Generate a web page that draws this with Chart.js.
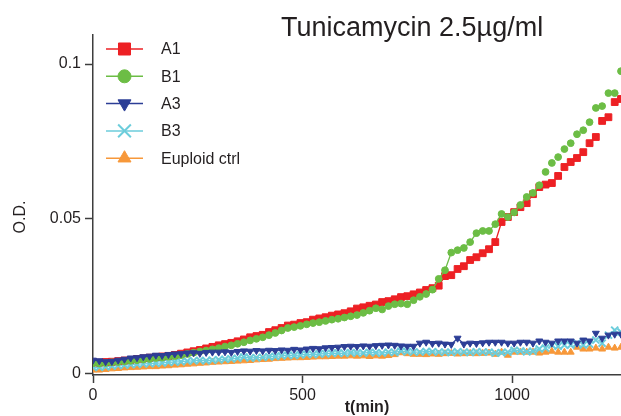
<!DOCTYPE html>
<html>
<head>
<meta charset="utf-8">
<script src="https://cdn.jsdelivr.net/npm/chart.js@4.4.0/dist/chart.umd.min.js"></script>
<style>
  html, body { margin: 0; padding: 0; background: #fff; }
  #wrap { width: 621px; height: 416px; }
</style>
</head>
<body>
<div id="wrap"><canvas id="odChart" width="621" height="416"></canvas></div>
<script>
// Sampling times (min)
const times = [0, 15, 30, 45, 60, 75, 90, 105, 120, 135, 150, 165, 180, 195, 210, 225, 240, 255, 270, 285,
  300, 315, 330, 345, 360, 375, 390, 405, 420, 435, 450, 465, 480, 495, 510, 525, 540, 555, 570, 585,
  600, 615, 630, 645, 660, 675, 690, 705, 720, 735, 750, 765, 780, 795, 810, 825, 840, 855, 870, 885,
  900, 915, 930, 945, 960, 975, 990, 1005, 1020, 1035, 1050, 1065, 1080, 1095, 1110, 1125, 1140, 1155,
  1170, 1185, 1200, 1215, 1230, 1245, 1260];

// O.D. readings per strain
const odA1 = [0.0035, 0.0034, 0.0036, 0.0037, 0.0039, 0.0041, 0.0043, 0.0046, 0.0048, 0.0050,
  0.0052, 0.0054, 0.0056, 0.0059, 0.0063, 0.0067, 0.0071, 0.0075, 0.0080, 0.0085,
  0.0090, 0.0094, 0.0098, 0.0103, 0.0109, 0.0116, 0.0120, 0.0124, 0.0133, 0.0139,
  0.0146, 0.0154, 0.0157, 0.0162, 0.0165, 0.0173, 0.0177, 0.0181, 0.0186, 0.0190,
  0.0194, 0.0200, 0.0209, 0.0213, 0.0218, 0.0222, 0.0230, 0.0233, 0.0239, 0.0246,
  0.0249, 0.0255, 0.0261, 0.0269, 0.0275, 0.0283, 0.0314, 0.0317, 0.0337, 0.0346,
  0.0366, 0.0375, 0.0388, 0.0401, 0.0424, 0.0489, 0.0505, 0.0521, 0.0537, 0.0550,
  0.0579, 0.0602, 0.0610, 0.0615, 0.0638, 0.0667, 0.0683, 0.0696, 0.0715, 0.0744,
  0.0764, 0.0816, 0.0828, 0.0877, 0.0887];

const odB1 = [0.0032, 0.0031, 0.0033, 0.0035, 0.0036, 0.0038, 0.0040, 0.0042, 0.0044, 0.0046,
  0.0049, 0.0050, 0.0053, 0.0055, 0.0058, 0.0062, 0.0066, 0.0070, 0.0073, 0.0077,
  0.0081, 0.0086, 0.0090, 0.0095, 0.0100, 0.0106, 0.0111, 0.0116, 0.0123, 0.0130,
  0.0138, 0.0146, 0.0149, 0.0153, 0.0158, 0.0162, 0.0165, 0.0169, 0.0173, 0.0176,
  0.0180, 0.0184, 0.0188, 0.0195, 0.0202, 0.0210, 0.0206, 0.0217, 0.0223, 0.0225,
  0.0223, 0.0236, 0.0247, 0.0256, 0.0270, 0.0305, 0.0333, 0.0390, 0.0398, 0.0405,
  0.0424, 0.0453, 0.0460, 0.0460, 0.0482, 0.0515, 0.0505, 0.0520, 0.0544, 0.0570,
  0.0583, 0.0608, 0.0651, 0.0680, 0.0699, 0.0725, 0.0744, 0.0773, 0.0786, 0.0812,
  0.0858, 0.0864, 0.0906, 0.0906, 0.0977];

const odA3 = [0.0042, 0.0040, 0.0037, 0.0038, 0.0042, 0.0045, 0.0049, 0.0050, 0.0053, 0.0055,
  0.0058, 0.0057, 0.0060, 0.0062, 0.0063, 0.0065, 0.0066, 0.0064, 0.0067, 0.0068,
  0.0068, 0.0069, 0.0067, 0.0070, 0.0072, 0.0071, 0.0073, 0.0072, 0.0074, 0.0073,
  0.0075, 0.0074, 0.0077, 0.0075, 0.0078, 0.0080, 0.0079, 0.0082, 0.0083, 0.0084,
  0.0086, 0.0087, 0.0086, 0.0088, 0.0087, 0.0089, 0.0090, 0.0091, 0.0090, 0.0088,
  0.0087, 0.0087, 0.0097, 0.0100, 0.0096, 0.0097, 0.0094, 0.0093, 0.0113, 0.0094,
  0.0097, 0.0096, 0.0098, 0.0100, 0.0100, 0.0100, 0.0097, 0.0097, 0.0100, 0.0100,
  0.0097, 0.0104, 0.0100, 0.0097, 0.0104, 0.0104, 0.0104, 0.0097, 0.0107, 0.0104,
  0.0129, 0.0113, 0.0123, 0.0126, 0.0126];

const odB3 = [0.0019, 0.0019, 0.0021, 0.0023, 0.0025, 0.0026, 0.0028, 0.0029, 0.0030, 0.0031,
  0.0032, 0.0033, 0.0035, 0.0036, 0.0037, 0.0039, 0.0040, 0.0041, 0.0040, 0.0042,
  0.0043, 0.0045, 0.0046, 0.0048, 0.0052, 0.0049, 0.0050, 0.0051, 0.0053, 0.0054,
  0.0056, 0.0058, 0.0057, 0.0059, 0.0061, 0.0060, 0.0062, 0.0063, 0.0064, 0.0065,
  0.0064, 0.0066, 0.0065, 0.0065, 0.0067, 0.0066, 0.0065, 0.0068, 0.0067, 0.0071,
  0.0069, 0.0068, 0.0068, 0.0070, 0.0069, 0.0068, 0.0068, 0.0067, 0.0069, 0.0068,
  0.0067, 0.0069, 0.0068, 0.0068, 0.0065, 0.0066, 0.0068, 0.0074, 0.0072, 0.0069,
  0.0071, 0.0078, 0.0081, 0.0091, 0.0087, 0.0091, 0.0091, 0.0097, 0.0091, 0.0094,
  0.0107, 0.0097, 0.0123, 0.0139, 0.0133];

const odEuploid = [0.0010, 0.0010, 0.0012, 0.0014, 0.0015, 0.0017, 0.0018, 0.0019, 0.0020, 0.0021,
  0.0021, 0.0023, 0.0024, 0.0026, 0.0027, 0.0029, 0.0030, 0.0032, 0.0033, 0.0035,
  0.0036, 0.0037, 0.0038, 0.0039, 0.0040, 0.0041, 0.0043, 0.0044, 0.0045, 0.0047,
  0.0048, 0.0049, 0.0050, 0.0050, 0.0051, 0.0052, 0.0053, 0.0053, 0.0054, 0.0055,
  0.0055, 0.0056, 0.0055, 0.0056, 0.0054, 0.0056, 0.0055, 0.0057, 0.0060, 0.0066,
  0.0063, 0.0061, 0.0061, 0.0060, 0.0062, 0.0061, 0.0063, 0.0064, 0.0062, 0.0063,
  0.0064, 0.0063, 0.0064, 0.0065, 0.0061, 0.0068, 0.0058, 0.0068, 0.0068, 0.0068,
  0.0068, 0.0065, 0.0068, 0.0071, 0.0068, 0.0068, 0.0068, 0.0084, 0.0078, 0.0078,
  0.0081, 0.0078, 0.0084, 0.0081, 0.0084];

const xTicks = [0, 500, 1000];
const yTicks = [0, 0.05, 0.1];

const chartTitle = 'Tunicamycin 2.5µg/ml';
const xTitle = 't(min)';
const yTitle = 'O.D.';

const FONT = '"Liberation Sans", Arial, Helvetica, sans-serif';
const TEXT = '#231f20';
const AXIS = '#3d3d3d';
const LINE_END = 71; // after this sample only the markers are drawn

function series(label, values, color, style, radius, legendRadius, opts) {
  return Object.assign({
    label: label,
    data: times.map((t, i) => ({ x: t, y: values[i] })),
    borderColor: color,
    backgroundColor: color,
    pointBackgroundColor: color,
    pointBorderColor: color,
    borderWidth: 1.3,
    pointRadius: radius,
    pointBorderWidth: 1,
    pointStyle: style,
    pointRotation: 0,
    legendRadius: legendRadius,
    tension: 0,
    segment: {
      borderColor: ctx => ctx.p1DataIndex > LINE_END ? 'rgba(0,0,0,0)' : undefined
    }
  }, opts || {});
}

const datasets = [
  series('A1', odA1, '#ed2024', 'rect', 4.8, 8.5, { order: 3 }),
  series('B1', odB1, '#6cbd45', 'circle', 3.4, 6.5, { order: 2 }),
  series('A3', odA3, '#2c3e96', 'triangle', 4, 7.5, { order: 1, pointRotation: 180 }),
  series('B3', odB3, '#6ccddb', 'crossRot', 5, 9, { order: 4, pointBorderWidth: 2 }),
  series('Euploid ctrl', odEuploid, '#f7983a', 'triangle', 4, 7.5, { order: 5 })
];

// Title, legend box and axis titles drawn straight onto the canvas
const decorations = {
  id: 'decorations',
  afterDraw(chart) {
    const ctx = chart.ctx;
    ctx.save();
    ctx.fillStyle = TEXT;
    ctx.textAlign = 'left';
    ctx.textBaseline = 'alphabetic';
    ctx.font = '27px ' + FONT;
    ctx.fillText(chartTitle, 281, 36);

    // legend: short line with the marker on it
    chart.data.datasets.forEach((ds, i) => {
      const y = 49 + i * 27.3;
      ctx.strokeStyle = ds.borderColor;
      ctx.lineWidth = 1.5;
      ctx.beginPath();
      ctx.moveTo(106, y);
      ctx.lineTo(143, y);
      ctx.stroke();
      ctx.fillStyle = ds.pointBackgroundColor;
      ctx.strokeStyle = ds.pointBorderColor;
      ctx.lineWidth = ds.pointBorderWidth;
      Chart.helpers.drawPoint(ctx, {
        pointStyle: ds.pointStyle,
        rotation: ds.pointRotation,
        radius: ds.legendRadius,
        borderWidth: ds.pointBorderWidth
      }, 124.5, y);
      ctx.fillStyle = TEXT;
      ctx.font = '16px ' + FONT;
      ctx.textBaseline = 'middle';
      ctx.fillText(ds.label, 161, y + 1);
    });

    ctx.font = 'bold 16px ' + FONT;
    ctx.textAlign = 'center';
    ctx.textBaseline = 'alphabetic';
    ctx.fillText(xTitle, 367, 412);

    ctx.translate(21, 217);
    ctx.rotate(-Math.PI / 2);
    ctx.font = '16px ' + FONT;
    ctx.textBaseline = 'middle';
    ctx.fillText(yTitle, 0, 0);
    ctx.restore();
  }
};

new Chart(document.getElementById('odChart'), {
  type: 'line',
  data: { datasets: datasets },
  options: {
    responsive: false,
    animation: false,
    events: [],
    layout: { autoPadding: false, padding: { top: 35, right: 0, bottom: 0, left: 0 } },
    plugins: {
      legend: { display: false },
      title: { display: false },
      tooltip: { enabled: false }
    },
    scales: {
      x: {
        type: 'linear',
        min: 0,
        max: 1260,
        afterBuildTicks: s => { s.ticks = xTicks.map(v => ({ value: v })); },
        afterFit: s => { s.height = 41; },
        border: { color: AXIS, width: 1.5 },
        grid: { drawOnChartArea: false, tickLength: 8, tickWidth: 1.5, tickColor: AXIS },
        ticks: { color: TEXT, font: { size: 16, family: FONT }, padding: 3, maxRotation: 0, callback: v => String(v) }
      },
      y: {
        type: 'linear',
        min: -0.0006,
        max: 0.1094,
        afterBuildTicks: s => { s.ticks = yTicks.map(v => ({ value: v })); },
        afterFit: s => { s.width = 93; },
        border: { color: AXIS, width: 1.5 },
        grid: { drawOnChartArea: false, tickLength: 8, tickWidth: 1.5, tickColor: AXIS },
        ticks: { color: TEXT, font: { size: 16, family: FONT }, padding: 4, callback: v => String(v) }
      }
    }
  },
  plugins: [decorations]
});
</script>
</body>
</html>
